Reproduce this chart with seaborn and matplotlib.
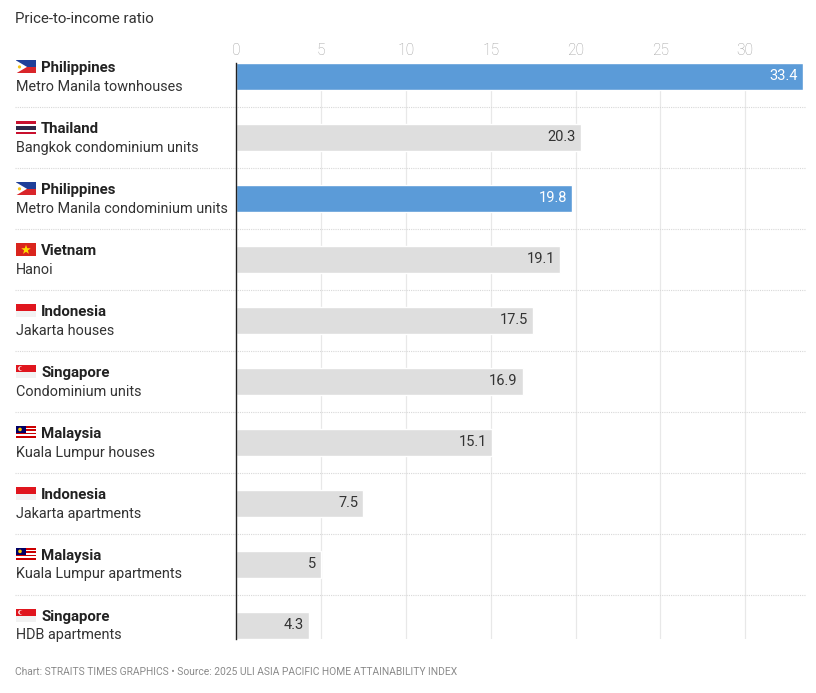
import matplotlib
matplotlib.use("Agg")
import matplotlib.pyplot as plt
import matplotlib.transforms as mtransforms
from matplotlib.patches import Rectangle, Polygon, Ellipse
import seaborn as sns
import pandas as pd
import numpy as np

countries = ["Philippines", "Thailand", "Philippines", "Vietnam", "Indonesia",
             "Singapore", "Malaysia", "Indonesia", "Malaysia", "Singapore"]
segments = ["Metro Manila townhouses", "Bangkok condominium units",
            "Metro Manila condominium units", "Hanoi", "Jakarta houses",
            "Condominium units", "Kuala Lumpur houses", "Jakarta apartments",
            "Kuala Lumpur apartments", "HDB apartments"]
values = [33.4, 20.3, 19.8, 19.1, 17.5, 16.9, 15.1, 7.5, 5, 4.3]
value_labels = ["33.4", "20.3", "19.8", "19.1", "17.5", "16.9", "15.1", "7.5", "5", "4.3"]
highlight = [True, False, True, False, False, False, False, False, False, False]
x_ticks = [0, 5, 10, 15, 20, 25, 30]

BLUE = "#5b9bd8"
GRAY = "#dedede"

sns.set_theme(style="white")
plt.rcParams["font.family"] = ["Roboto", "DejaVu Sans"]

W, H = 816, 693
fig = plt.figure(figsize=(W / 100, H / 100), dpi=100)
ax = fig.add_axes([236 / W, 1 - 638.5 / H, (803 - 236) / W, (638.5 - 63) / H])

ids = [f"r{i}" for i in range(len(values))]
df = pd.DataFrame({"id": ids, "value": values})
palette = {i: (BLUE if h else GRAY) for i, h in zip(ids, highlight)}
sns.barplot(data=df, x="value", y="id", hue="id", palette=palette, legend=False,
            orient="h", width=0.44, saturation=1, ax=ax, zorder=2)

n = len(values)
ax.set_xlim(0, 33.4)
ax.set_ylim(n - 1 + 0.22, -0.22)
ax.set_xticks(x_ticks)
ax.xaxis.tick_top()
ax.tick_params(axis="x", length=0, pad=3.5, labelsize=11.2, labelcolor="#a0a0a0")
for lab in ax.get_xticklabels():
    lab.set_fontweight("light")
ax.set_yticks([])
ax.set_xlabel("")
ax.set_ylabel("")
for s in ["top", "right", "bottom"]:
    ax.spines[s].set_visible(False)
ax.spines["left"].set_color("#222222")
ax.spines["left"].set_linewidth(1.0)
ax.spines["left"].set_zorder(4)
ax.grid(axis="x", color="#e8e8e8", linewidth=0.9, zorder=0)
ax.set_axisbelow(True)

# value labels
for i, (v, lab, h) in enumerate(zip(values, value_labels, highlight)):
    ax.text(v - 0.3, i, lab, ha="right", va="center", fontsize=10.5,
            color="white" if h else "#333333", zorder=5)

# separators
for i in range(n - 1):
    ax.axhline(i + 0.5, xmin=(15 - 236) / 567, xmax=(806 - 236) / 567,
               color="#d8d8d8", linewidth=0.8, linestyle=(0, (1, 1)), clip_on=False, zorder=1)

blend = mtransforms.blended_transform_factory(fig.transFigure, ax.transData)

# labels
for i, (c, s) in enumerate(zip(countries, segments)):
    ax.text(41 / W, i - 0.14, c, transform=blend, ha="left", va="center",
            fontsize=10.8, fontweight="bold", color="#222222")
    ax.text(16 / W, i + 0.17, s, transform=blend, ha="left", va="center",
            fontsize=10.4, color="#333333")

# flags
fx0, fx1 = 16 / W, 36 / W
ppx = 1 / 61.0  # data units per pixel vertically


def rect(x0, x1, y0, y1, color):
    ax.add_patch(Rectangle((x0, y0), x1 - x0, y1 - y0, transform=blend,
                           facecolor=color, edgecolor="none", clip_on=False, zorder=3))


def poly(pts, color, z=4):
    ax.add_patch(Polygon(pts, closed=True, transform=blend, facecolor=color,
                         edgecolor="none", clip_on=False, zorder=z))


def dot(cx_px, cy, r_px, color, z=5):
    ax.add_patch(Ellipse((fx0 + cx_px / W, cy), 2 * r_px / W, 2 * r_px * ppx,
                         transform=blend, facecolor=color, edgecolor="none",
                         clip_on=False, zorder=z))


for i, c in enumerate(countries):
    top = i - 16 * ppx
    bot = i - 3 * ppx
    hgt = bot - top
    if c == "Philippines":
        rect(fx0, fx1, top, top + hgt / 2, "#1f3f99")
        rect(fx0, fx1, top + hgt / 2, bot, "#d9252a")
        poly([(fx0, top), (fx0 + 11 / W, top + hgt / 2), (fx0, bot)], "white")
        dot(3.5, top + hgt / 2, 1.6, "#f5c518")
    elif c == "Thailand":
        bands = ["#c8102e", "white", "#2d2a4a", "#2d2a4a", "white", "#c8102e"]
        for k, col in enumerate(bands):
            rect(fx0, fx1, top + hgt * k / 6, top + hgt * (k + 1) / 6, col)
    elif c == "Vietnam":
        rect(fx0, fx1, top, bot, "#da251d")
        cx, cy = (fx0 + fx1) / 2, (top + bot) / 2
        pts = []
        for k in range(10):
            r = 5.0 if k % 2 == 0 else 2.0
            a = np.pi / 2 + k * np.pi / 5
            pts.append((cx + r * np.cos(a) / W, cy - r * np.sin(a) * ppx))
        poly(pts, "#ffdd00")
    elif c == "Indonesia":
        rect(fx0, fx1, top, top + hgt / 2, "#e0161e")
        rect(fx0, fx1, top + hgt / 2, bot, "#f2f2f2")
    elif c == "Singapore":
        rect(fx0, fx1, top, top + hgt / 2, "#e0161e")
        rect(fx0, fx1, top + hgt / 2, bot, "#f2f2f2")
        dot(4.5, top + hgt / 4, 2.3, "white")
        dot(5.5, top + hgt / 4, 2.0, "#e0161e", z=6)
    elif c == "Malaysia":
        for k in range(8):
            col = "#cc0001" if k % 2 == 0 else "white"
            rect(fx0, fx1, top + hgt * k / 8, top + hgt * (k + 1) / 8, col)
        rect(fx0, fx0 + 10 / W, top, top + hgt * 4 / 8, "#010066")
        dot(4, top + hgt / 4, 1.8, "#ffcc00")

fig.text(15 / W, 1 - 19 / H, "Price-to-income ratio", ha="left", va="center",
         fontsize=10.8, color="#333333")
fig.text(15 / W, 1 - 672 / H,
         "Chart: STRAITS TIMES GRAPHICS \u2022 Source: 2025 ULI ASIA PACIFIC HOME ATTAINABILITY INDEX",
         ha="left", va="center", fontsize=7.4, color="#8a8a8a")

fig.savefig("out.png", dpi=100, facecolor="white")
